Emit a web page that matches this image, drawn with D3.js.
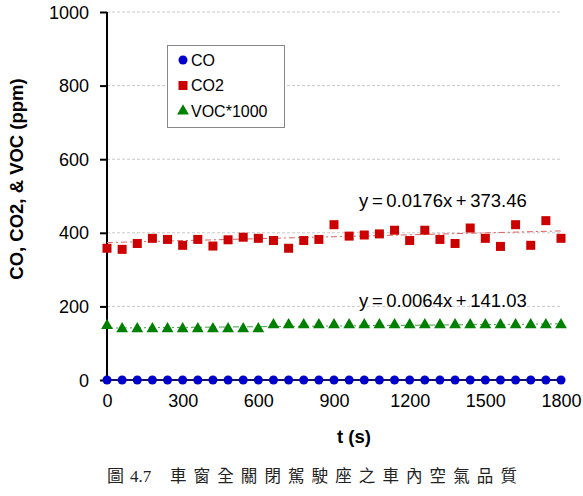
<!DOCTYPE html>
<html><head><meta charset="utf-8">
<script src="https://cdn.jsdelivr.net/npm/d3@7"></script>
<style>body{margin:0;background:#fff}svg{display:block}</style>
</head><body>
<svg id="c" width="583" height="496"></svg>
<script>
const times = d3.range(0, 1801, 60);
const co = times.map(() => 0);
const co2 = [358,355,371,385,382,366,382,364,381,388,385,379,358,379,382,422,391,394,397,407,379,407,382,371,413,385,363,422,366,433,385];
const voc = [148,139,139,139,139,139,139,139,139,139,139,150,150,150,150,150,150,150,150,150,150,150,150,150,150,150,150,150,150,150,150];
const xTicks = [0,300,600,900,1200,1500,1800];
const yTicks = [0,200,400,600,800,1000];
const fitCO2 = {m:0.0176, b:373.46, label:"y = 0.0176x + 373.46"};
const fitVOC = {m:0.0064, b:141.03, label:"y = 0.0064x + 141.03"};
const legendNames = ["CO","CO2","VOC*1000"];
const captionHead = ["圖", "4.7"];
const captionBody = "車窗全關閉駕駛座之車內空氣品質".split("");

const svg = d3.select("#c");
const L=107, R=561, T=12, B=380;
const x = d3.scaleLinear().domain([0,1800]).range([L,R]);
const y = d3.scaleLinear().domain([0,1000]).range([B,T]);
const font = "'Liberation Sans', Arial, sans-serif";

// grid
svg.append("g").selectAll("line").data(yTicks.filter(d=>d>0)).join("line")
  .attr("x1",L).attr("x2",R).attr("y1",d=>y(d)).attr("y2",d=>y(d))
  .attr("stroke","#c8c8c8").attr("stroke-width",1).attr("stroke-dasharray","3,2");

// axes
const ya = svg.append("g").attr("transform",`translate(${L},0)`)
  .call(d3.axisLeft(y).tickValues(yTicks).tickSize(7).tickPadding(11).tickFormat(d3.format("d")));
const xa = svg.append("g").attr("transform",`translate(0,${B})`)
  .call(d3.axisBottom(x).tickValues(xTicks).tickSize(0).tickPadding(14).tickFormat(d3.format("d")));
[ya,xa].forEach(a=>{
  a.select(".domain").attr("stroke","#000").attr("stroke-width",2);
  a.selectAll(".tick line").attr("stroke","#000").attr("stroke-width",2);
  a.selectAll("text").attr("font-family",font).attr("font-size",18).attr("fill","#000");
});
ya.selectAll("text").attr("dy","0.34em");
ya.select(".domain").attr("d",`M0,${B}V${T}`);
xa.select(".domain").attr("d",`M${L},0H${R}`);

// trend lines
[[fitCO2,"#e06060"],[fitVOC,"#40a040"]].forEach(([f,c])=>{
  svg.append("line").attr("x1",x(0)).attr("x2",x(1800))
    .attr("y1",y(f.b)).attr("y2",y(f.m*1800+f.b))
    .attr("stroke",c).attr("stroke-width",1).attr("stroke-dasharray","6,3,2,3");
});

// CO line + circles
svg.append("path").datum(co).attr("fill","none").attr("stroke","#1a1a80").attr("stroke-width",1.5)
  .attr("d",d3.line().x((d,i)=>x(times[i])).y(d=>y(d)));
svg.append("g").selectAll("circle").data(co).join("circle")
  .attr("cx",(d,i)=>x(times[i])).attr("cy",d=>y(d)).attr("r",4.5).attr("fill","#0000cc");

// CO2 squares
svg.append("g").selectAll("rect").data(co2).join("rect")
  .attr("x",(d,i)=>x(times[i])-4.5).attr("y",d=>y(d)-4.5).attr("width",9).attr("height",9).attr("fill","#cc0000");

// VOC triangles
const tri = d3.symbol().type(d3.symbolTriangle).size(60);
svg.append("g").selectAll("path").data(voc).join("path")
  .attr("d",tri).attr("transform",(d,i)=>`translate(${x(times[i])},${y(d)})`).attr("fill","#008000");

// equations
svg.append("text").attr("x",359).attr("y",207).text(fitCO2.label)
  .attr("font-family",font).attr("font-size",18.5).attr("fill","#000").attr("word-spacing",-1.5);
svg.append("text").attr("x",359).attr("y",307).text(fitVOC.label)
  .attr("font-family",font).attr("font-size",18.5).attr("fill","#000").attr("word-spacing",-1.5);

// legend
const lg = svg.append("g");
lg.append("rect").attr("x",167.5).attr("y",45.5).attr("width",117).attr("height",82)
  .attr("fill","#fff").attr("stroke","#888");
const symFns = [
  (g)=>g.append("circle").attr("r",4.5).attr("fill","#0000cc"),
  (g)=>g.append("rect").attr("x",-4.5).attr("y",-4.5).attr("width",9).attr("height",9).attr("fill","#cc0000"),
  (g)=>g.append("path").attr("d",tri).attr("fill","#008000")
];
legendNames.forEach((n,i)=>{
  const gy = 60 + i*25.5;
  const g = lg.append("g").attr("transform",`translate(183,${gy})`);
  symFns[i](g);
  lg.append("text").attr("x",191).attr("y",gy+5.5).text(n)
    .attr("font-family",font).attr("font-size",16).attr("fill","#000");
});

// axis titles
svg.append("text").attr("transform","translate(23,179) rotate(-90)").attr("text-anchor","middle")
  .text("CO, CO2, & VOC (ppm)").attr("font-family",font).attr("font-size",18.5).attr("font-weight","bold");
svg.append("text").attr("x",354).attr("y",443).attr("text-anchor","middle")
  .text("t (s)").attr("font-family",font).attr("font-size",18.5).attr("font-weight","bold");

// caption
const cap = svg.append("g").attr("font-family","'Noto Sans CJK TC', sans-serif").attr("fill","#222");
cap.append("text").attr("x",107).attr("y",482).attr("font-size",17).text(captionHead[0]);
cap.append("text").attr("x",130).attr("y",482).attr("font-size",17).attr("font-family","'Liberation Serif', serif").text(captionHead[1]);
cap.selectAll("text.b").data(captionBody).join("text").attr("class","b")
  .attr("x",(d,i)=>170+i*23.6).attr("y",482).attr("font-size",16.5).text(d=>d);
</script>
</body></html>
